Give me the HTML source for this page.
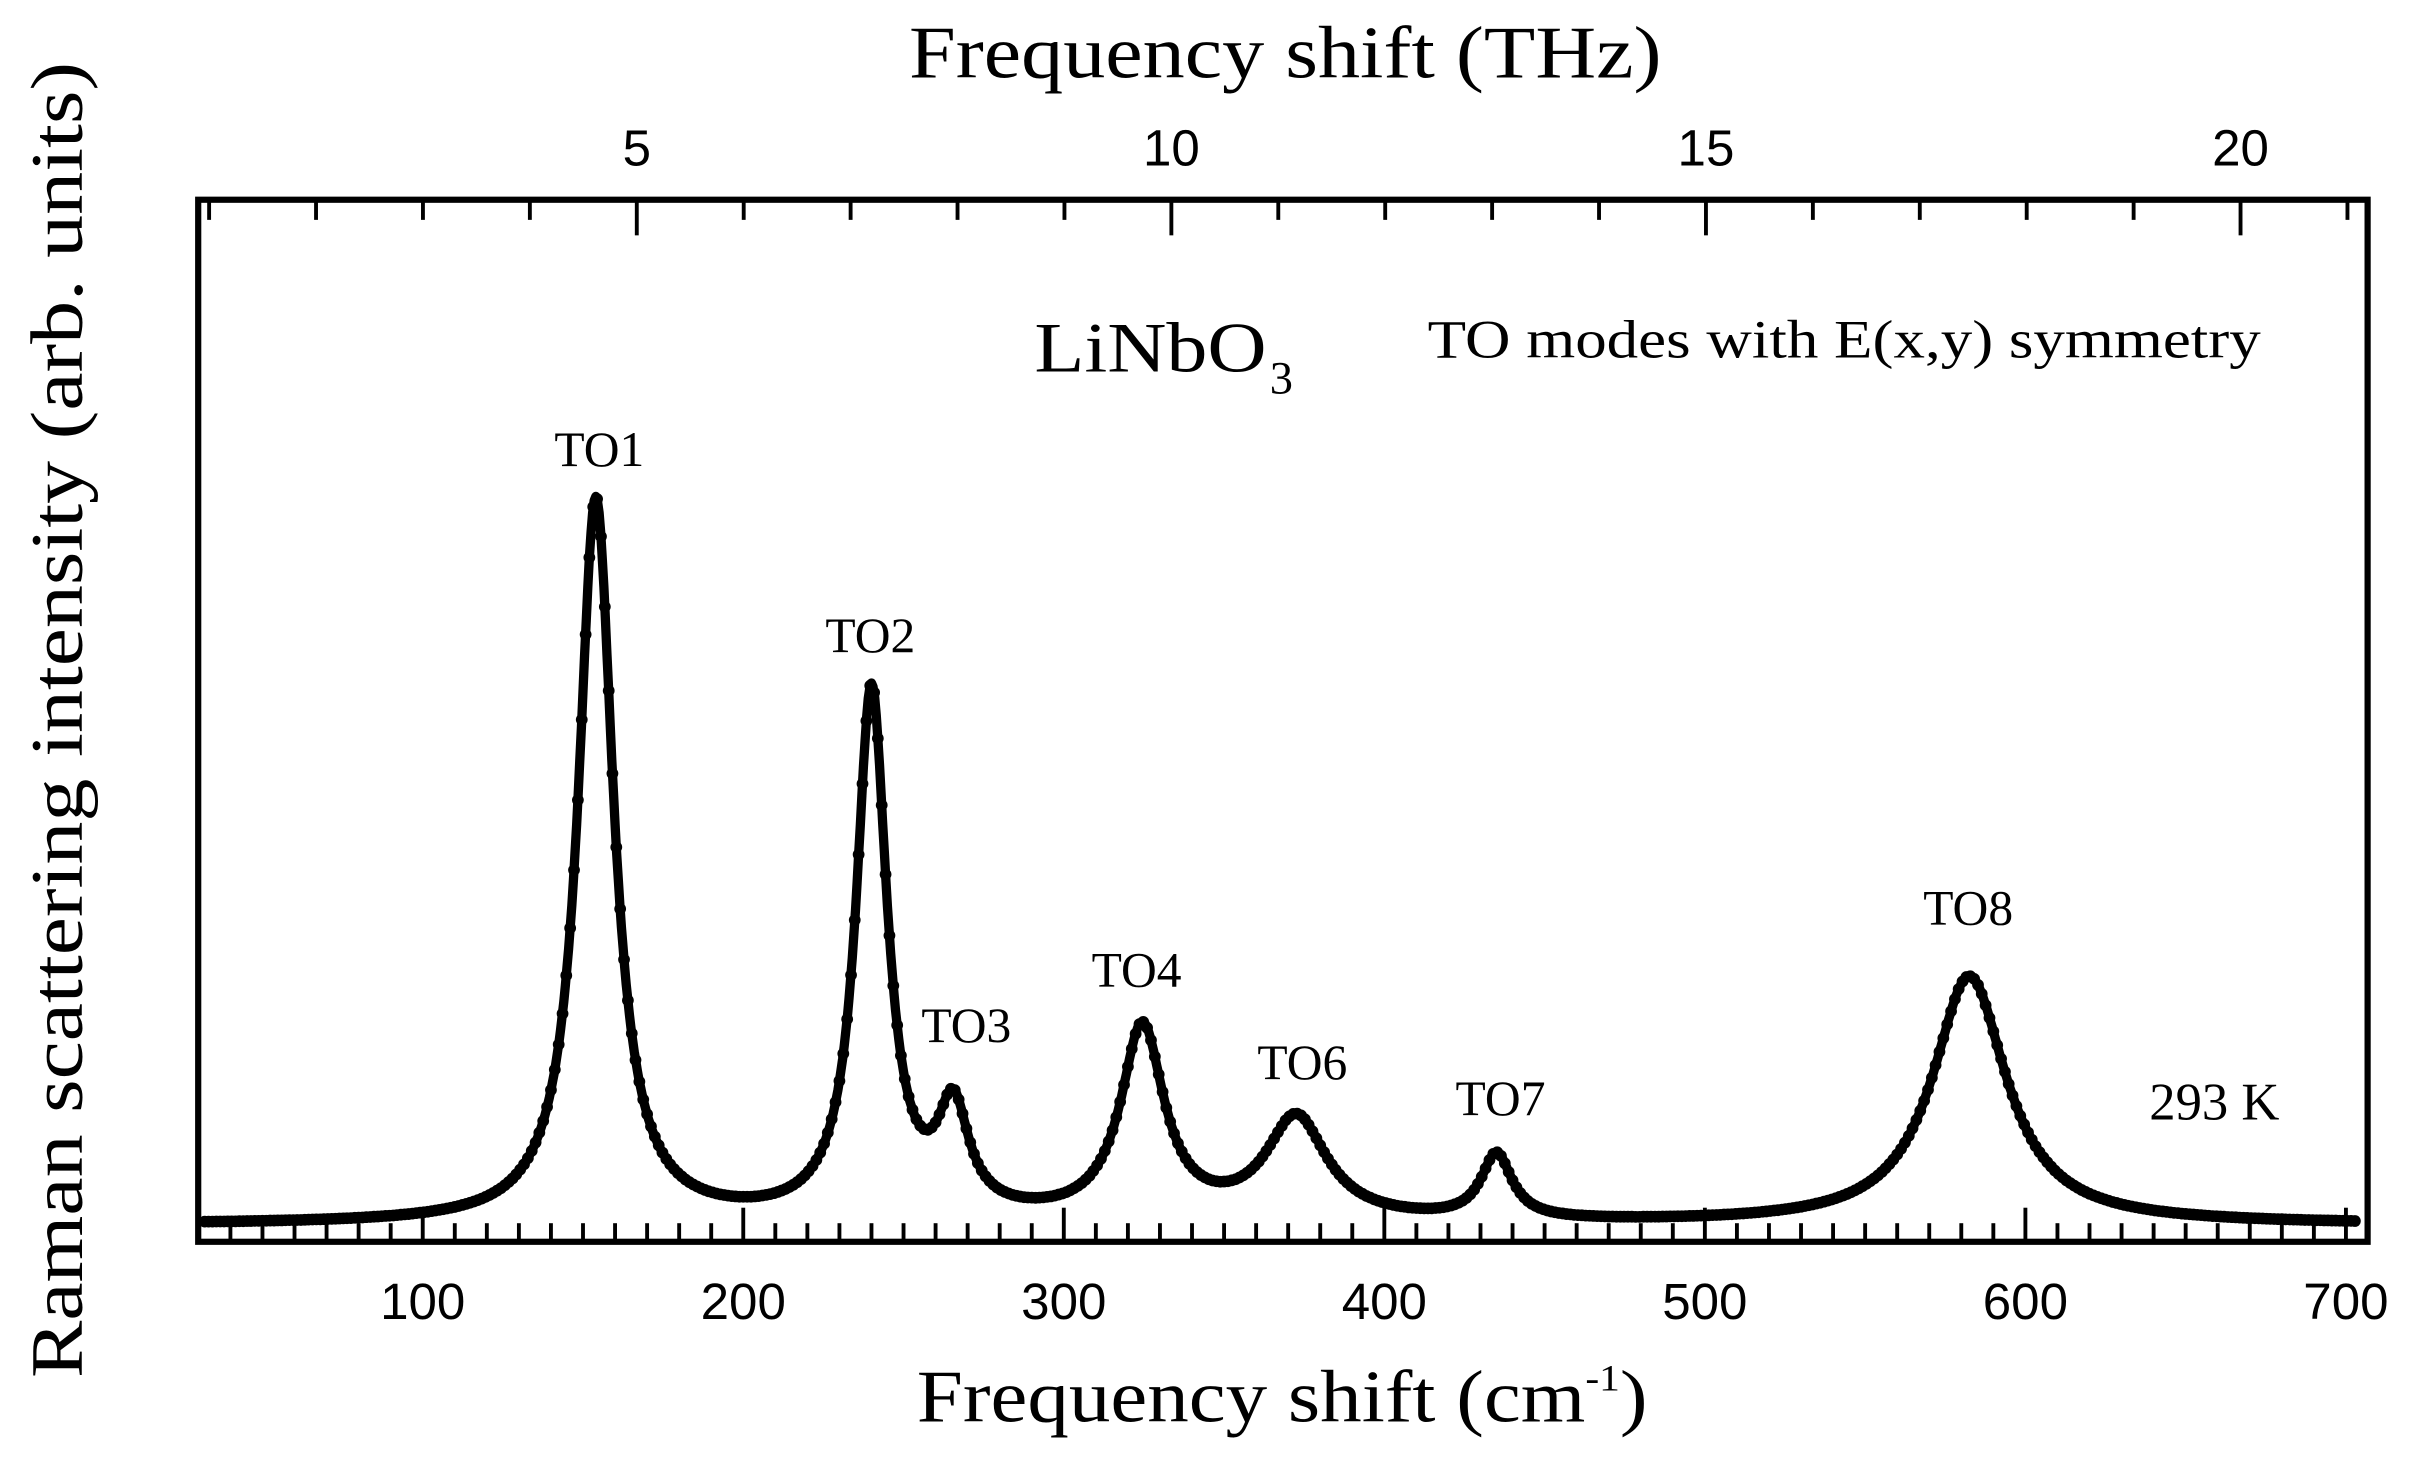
<!DOCTYPE html>
<html><head><meta charset="utf-8"><style>
html,body{margin:0;padding:0;background:#fff;width:2428px;height:1457px;overflow:hidden}
svg{display:block}
text{font-family:"Liberation Serif",serif;fill:#000}
.s text{font-family:"Liberation Sans",sans-serif}
</style></head><body>
<svg id="c" width="2428" height="1457" viewBox="0 0 1568 941" preserveAspectRatio="none" xmlns="http://www.w3.org/2000/svg">
<rect x="0" y="0" width="1568" height="941" fill="#fff"/>
<g id="ticks" stroke="#000" stroke-width="2.5"></g>
<rect x="128" y="129" width="1401" height="673" fill="none" stroke="#000" stroke-width="4"/>
<g id="curve"></g>
<text x="830" y="50" font-size="48" text-anchor="middle" textLength="486" lengthAdjust="spacingAndGlyphs">Frequency shift (THz)</text>
<text x="828" y="918" font-size="48" text-anchor="middle" textLength="472" lengthAdjust="spacingAndGlyphs">Frequency shift (cm<tspan font-size="24" dy="-20">-1</tspan><tspan dy="20">)</tspan></text>
<text transform="translate(53,465) rotate(-90)" font-size="48" text-anchor="middle" textLength="850" lengthAdjust="spacingAndGlyphs">Raman scattering intensity (arb. units)</text>
<text x="668" y="240" font-size="46" textLength="150" lengthAdjust="spacingAndGlyphs">LiNbO</text>
<text x="820" y="254" font-size="30">3</text>
<text x="922" y="231" font-size="35" textLength="538" lengthAdjust="spacingAndGlyphs">TO modes with E(x,y) symmetry</text>
<text x="1388" y="723" font-size="34">293 K</text>
<g font-size="32">
<text x="358" y="301">TO1</text>
<text x="533" y="421">TO2</text>
<text x="595" y="673">TO3</text>
<text x="705" y="637">TO4</text>
<text x="812" y="697">TO6</text>
<text x="940" y="720">TO7</text>
<text x="1242" y="597">TO8</text>
</g>
<g id="labels" class="s" font-size="33"></g>
</svg>
<script>
var NS="http://www.w3.org/2000/svg";
function X(v){return 273+(v-100)*2.07;}
function el(t,a,p){var e=document.createElementNS(NS,t);for(var k in a)e.setAttribute(k,a[k]);p.appendChild(e);return e;}
var tg=document.getElementById('ticks'),lg=document.getElementById('labels');
for(var v=40;v<=700;v+=10){var x=X(v);var maj=v%100==0;
 el('line',{x1:x,y1:802,x2:x,y2:maj?780:790},tg);
 if(maj){var t=el('text',{x:x,y:852,'text-anchor':'middle'},lg);t.textContent=v;}}
for(var f=1;f<=21;f++){var x=X(f*33.356);if(x<130||x>1528)continue;var maj=f%5==0;
 el('line',{x1:x,y1:129,x2:x,y2:maj?152:142},tg);
 if(maj){var t=el('text',{x:x,y:107,'text-anchor':'middle'},lg);t.textContent=f;}}
var P=[[154,468,6.6],[240,342,5.8],[265.5,66,5.8],[324.5,124,8.2],[372.5,66,11.5],[435,42,5.8],[582.5,160,14]];
var base=791;
function Y(v){var s=0;for(var i=0;i<P.length;i++){var d=v-P[i][0],g=P[i][2];s+=P[i][1]*g*g/(d*d+g*g);}return base-s;}
var cg=document.getElementById('curve');var pts=[];
for(var v=32;v<=704;v+=0.5){pts.push(X(v).toFixed(1)+','+Y(v).toFixed(1));}
el('polyline',{points:pts.join(' '),fill:'none',stroke:'#000','stroke-width':6,'stroke-linejoin':'round'},cg);
for(var v=32;v<=704;v+=1.2){el('circle',{cx:X(v).toFixed(1),cy:Y(v).toFixed(1),r:3.8,fill:'#000'},cg);}
</script>
</body></html>
